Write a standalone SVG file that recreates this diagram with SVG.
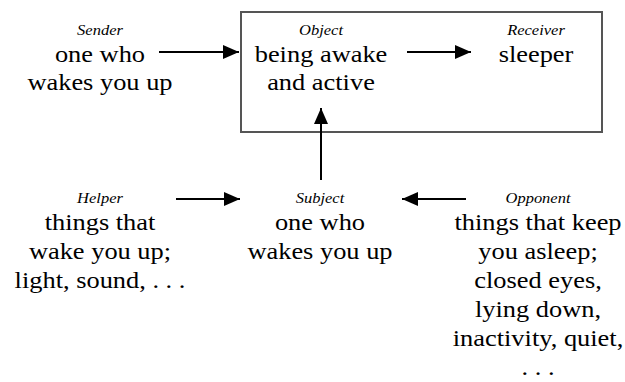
<svg xmlns="http://www.w3.org/2000/svg" width="625" height="382" viewBox="0 0 625 382">
  <style>
    .role { font-family: 'Liberation Serif', 'Times New Roman', serif; font-style: italic; font-size: 15px; fill: #000; text-anchor: middle; }
    .body { font-family: 'Liberation Serif', 'Times New Roman', serif; font-size: 24px; fill: #000; text-anchor: middle; }
    .frame { fill: none; stroke: #555; stroke-width: 2; }
    .link { stroke: #000; stroke-width: 2; fill: none; }
  </style>
  <defs>
    <marker id="head" viewBox="0 0 16 14" refX="16" refY="7" markerWidth="16" markerHeight="14" markerUnits="userSpaceOnUse" orient="auto">
      <path d="M0,0 L16,7 L0,14 Z" fill="#000"/>
    </marker>
  </defs>
  <rect fill="#fff" x="0" y="0" width="625" height="382"/>

  <!-- frame around object and receiver -->
  <rect class="frame" x="241" y="12" width="361" height="120"/>

  <!-- each node: italic role name above its description, widened slightly -->
  <g id="sender" transform="translate(100,0) scale(1.1,1)">
    <text class="role" x="0" y="35">Sender</text>
    <text class="body" x="0" y="62">one who</text>
    <text class="body" x="0" y="90">wakes you up</text>
  </g>

  <g id="object" transform="translate(321,0) scale(1.1,1)">
    <text class="role" x="0" y="35">Object</text>
    <text class="body" x="0" y="62">being awake</text>
    <text class="body" x="0" y="90">and active</text>
  </g>

  <g id="receiver" transform="translate(536,0) scale(1.1,1)">
    <text class="role" x="0" y="35">Receiver</text>
    <text class="body" x="0" y="62">sleeper</text>
  </g>

  <g id="helper" transform="translate(100,0) scale(1.1,1)">
    <text class="role" x="0" y="203">Helper</text>
    <text class="body" x="0" y="230">things that</text>
    <text class="body" x="0" y="259">wake you up;</text>
    <text class="body" x="0" y="288">light, sound, . . .</text>
  </g>

  <g id="subject" transform="translate(320,0) scale(1.1,1)">
    <text class="role" x="0" y="203">Subject</text>
    <text class="body" x="0" y="230">one who</text>
    <text class="body" x="0" y="259">wakes you up</text>
  </g>

  <g id="opponent" transform="translate(538,0) scale(1.1,1)">
    <text class="role" x="0" y="203">Opponent</text>
    <text class="body" x="0" y="230">things that keep</text>
    <text class="body" x="0" y="259">you asleep;</text>
    <text class="body" x="0" y="288">closed eyes,</text>
    <text class="body" x="0" y="317">lying down,</text>
    <text class="body" x="0" y="346">inactivity, quiet,</text>
    <text class="body" x="0" y="375">. . .</text>
  </g>

  <g id="connectors">
    <line class="link" x1="159" y1="52" x2="239" y2="52" marker-end="url(#head)"/>
    <line class="link" x1="407" y1="52" x2="471" y2="52" marker-end="url(#head)"/>
    <line class="link" x1="321" y1="180" x2="321" y2="108" marker-end="url(#head)"/>
    <line class="link" x1="176" y1="199" x2="240" y2="199" marker-end="url(#head)"/>
    <line class="link" x1="466" y1="199" x2="402" y2="199" marker-end="url(#head)"/>
  </g>
</svg>
